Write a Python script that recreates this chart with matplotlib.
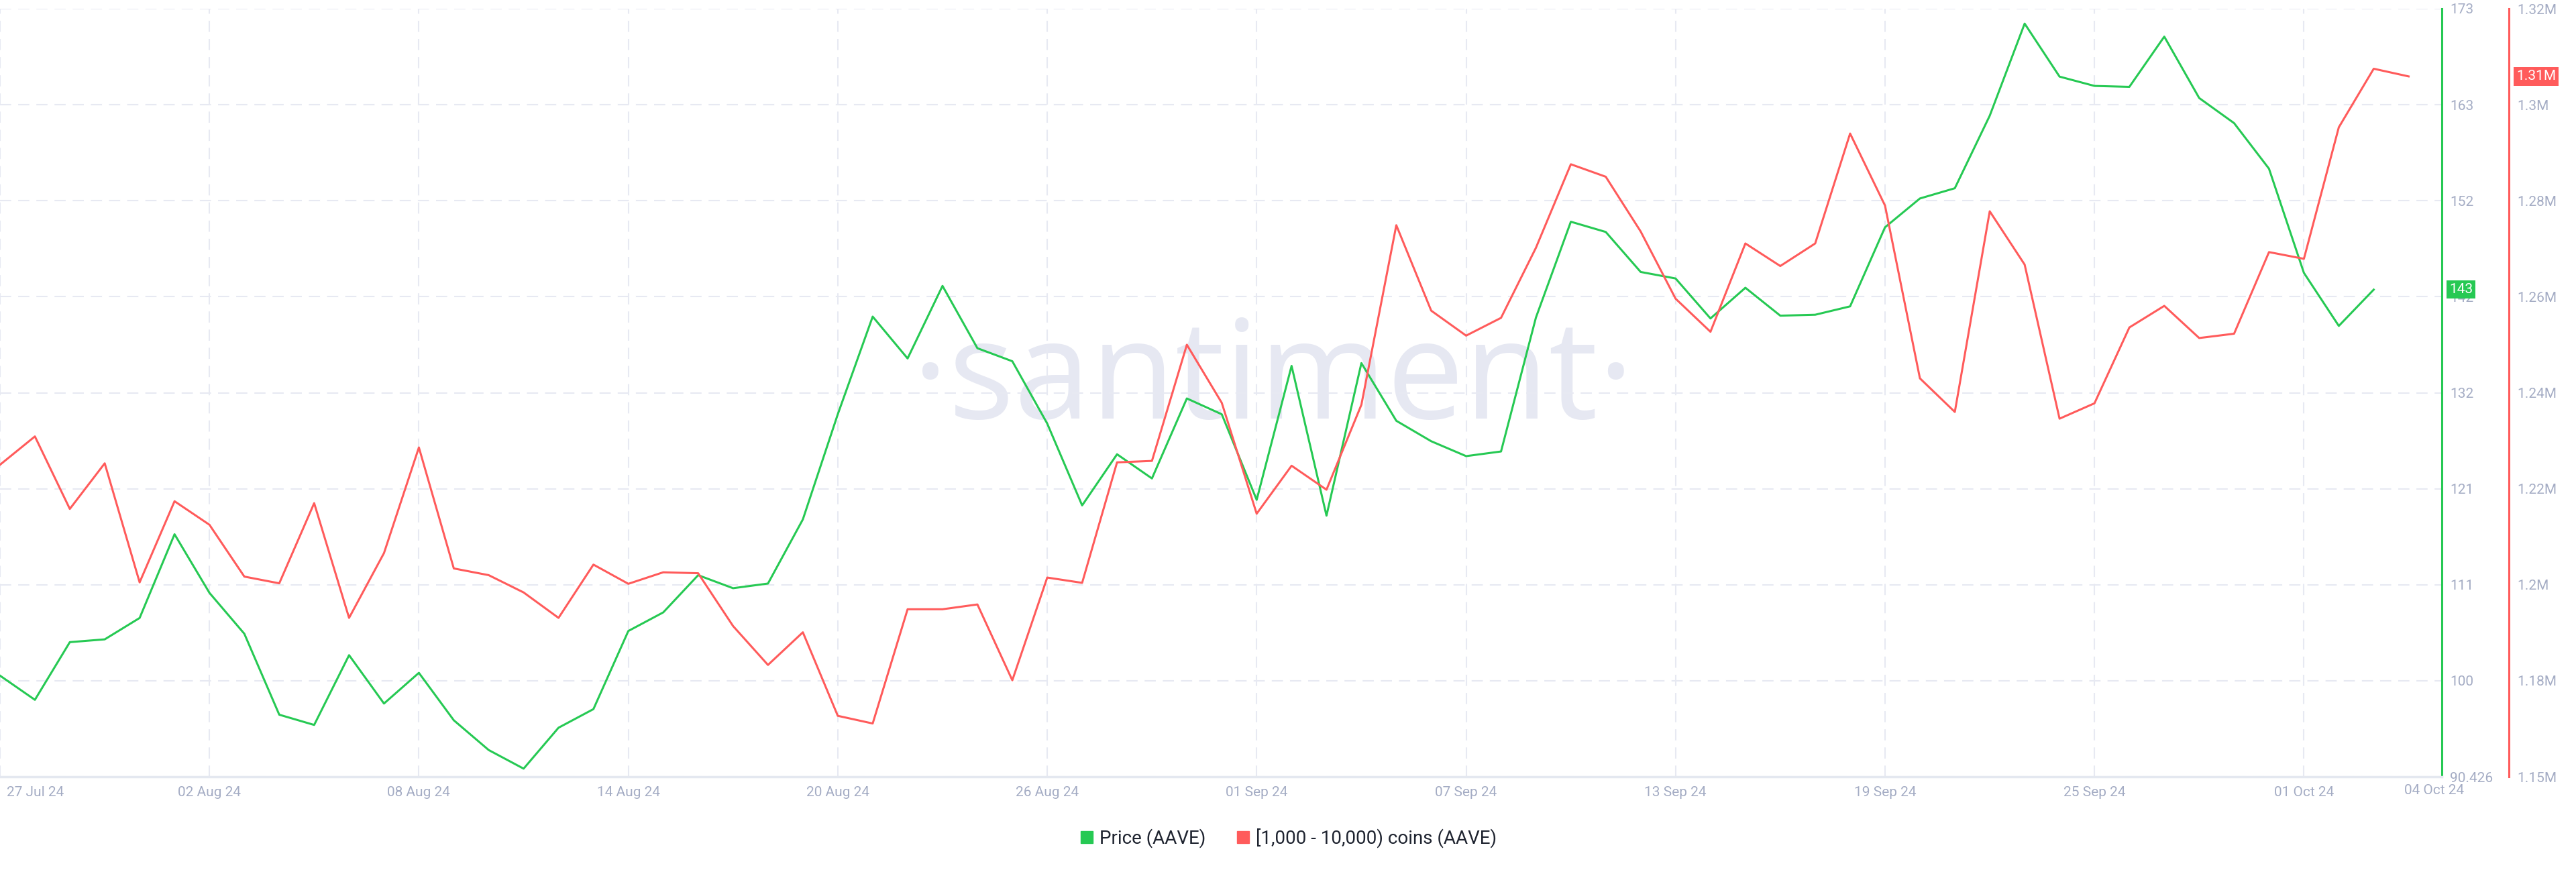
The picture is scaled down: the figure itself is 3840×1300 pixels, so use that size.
import matplotlib
matplotlib.use("Agg")
import matplotlib.pyplot as plt
import matplotlib.transforms as mtransforms
from matplotlib.lines import Line2D
import pandas as pd
import numpy as np

plt.rcParams['font.family'] = ['Roboto', 'DejaVu Sans']

# daily values, starting 27 Jul 2024
price = [101.3, 98.7, 104.9, 105.2, 107.5, 116.5, 110.2, 105.8, 97.1, 96.0,
         103.5, 98.3, 101.6, 96.5, 93.3, 91.3, 95.7, 97.7, 106.1, 108.1,
         112.1, 110.7, 111.2, 118.1, 129.4, 139.9, 135.4, 143.2, 136.5, 135.1,
         128.4, 119.6, 125.1, 122.5, 131.1, 129.4, 120.2, 134.6, 118.5, 134.9,
         128.7, 126.5, 124.9, 125.4, 139.8, 150.1, 149.0, 144.7, 144.0, 139.7,
         143.0, 140.0, 140.1, 141.0, 149.5, 152.6, 153.7, 161.5, 171.4, 165.7,
         164.7, 164.6, 170.0, 163.4, 160.7, 155.8, 144.6, 138.9, 142.8]

# holders with 1,000 - 10,000 AAVE, millions
holders = [1.2250, 1.2309, 1.2158, 1.2253, 1.2005, 1.2174, 1.2125, 1.2017, 1.2003, 1.2170,
           1.1931, 1.2066, 1.2286, 1.2034, 1.2020, 1.1984, 1.1931, 1.2042, 1.2002, 1.2026,
           1.2024, 1.1914, 1.1833, 1.1901, 1.1727, 1.1711, 1.1949, 1.1949, 1.1959, 1.1801,
           1.2015, 1.2004, 1.2255, 1.2258, 1.2500, 1.2379, 1.2148, 1.2248, 1.2198, 1.2375,
           1.2749, 1.2571, 1.2519, 1.2556, 1.2702, 1.2876, 1.2850, 1.2736, 1.2596, 1.2527,
           1.2711, 1.2664, 1.2711, 1.2940, 1.2790, 1.2430, 1.2360, 1.2778, 1.2667, 1.2346,
           1.2378, 1.2536, 1.2581, 1.2514, 1.2523, 1.2693, 1.2679, 1.2953, 1.3075, 1.3059]

price_ticks = ['90.426', '100', '111', '121', '132', '142', '152', '163', '173']
holder_ticks = ['1.15M', '1.18M', '1.2M', '1.22M', '1.24M', '1.26M', '1.28M', '1.3M', '1.32M']
date_ticks = ['27 Jul 24', '02 Aug 24', '08 Aug 24', '14 Aug 24', '20 Aug 24', '26 Aug 24',
              '01 Sep 24', '07 Sep 24', '13 Sep 24', '19 Sep 24', '25 Sep 24', '01 Oct 24']
last_price_label = '143'
last_holder_label = '1.31M'

GREEN = '#26c953'
RED = '#ff5b5b'
TICK = '#a4acc4'
GRID = '#e7e9f2'

dates = pd.date_range('2024-07-27', periods=len(holders), freq='D')
start = dates[0]

fig = plt.figure(figsize=(38.4, 13), dpi=100)
ax = fig.add_axes([0, 0.1092, 0.9479, 0.8808])
ax2 = ax.twinx()

# watermark
ax.text(0.5214, 0.466, '·santiment·', transform=ax.transAxes, ha='center', va='baseline',
        fontsize=148, color='#e6e8f2', family=['Open Sans', 'DejaVu Sans'], zorder=0)

ax.plot(dates[:len(price)], price, color=GREEN, lw=2.2, zorder=3)
ax2.plot(dates, holders, color=RED, lw=2.2, zorder=3)

ax.set_xlim(start, start + pd.Timedelta(days=69.95))
ax.set_ylim(90.426, 173)
ax2.set_ylim(1.16, 1.32)

ax.yaxis.tick_right()
ax.set_yticks(np.linspace(90.426, 173, len(price_ticks)), price_ticks)
ax2.set_yticks(np.linspace(1.16, 1.32, len(holder_ticks)), holder_ticks)

xt = [start + pd.Timedelta(days=6 * i) for i in range(len(date_ticks))]
ax.set_xticks(xt, date_ticks)
ax.get_xticklabels()[0].set_ha('left')
ax.get_xticklabels()[0].set_x(0)

for a in (ax, ax2):
    a.tick_params(axis='both', length=0, labelsize=15, labelcolor=TICK)
    for s in ('top', 'left'):
        a.spines[s].set_visible(False)
ax.tick_params(axis='y', pad=9)
ax2.tick_params(axis='y', pad=9)
ax.tick_params(axis='x', pad=10)
ax2.spines['bottom'].set_visible(False)
ax.spines['bottom'].set_color('#e4e8f0')
ax.spines['bottom'].set_linewidth(2.5)
ax.spines['right'].set_color(GREEN)
ax.spines['right'].set_linewidth(2.2)
ax2.spines['right'].set_position(('axes', 1 + 100 / 3640))
ax2.spines['right'].set_color(RED)
ax2.spines['right'].set_linewidth(2.2)

ax.grid(True, linestyle=(0, (8, 5)), color=GRID, lw=1.5, zorder=0)
ax2.grid(False)

# first label nudged in from the edge, end-date label at the right edge
ax.get_xticklabels()[0].set_transform(ax.get_xticklabels()[0].get_transform()
                                      + mtransforms.ScaledTranslation(0.1, 0, fig.dpi_scale_trans))
ax.text(0.997, -0.0175, '04 Oct 24', transform=ax.transAxes, ha='center', va='center',
        fontsize=15, color=TICK)

# last value badges
tr1 = mtransforms.blended_transform_factory(ax.transAxes, ax.transData)
ax.text(1.003, price[-1], last_price_label, transform=tr1, ha='left', va='center',
        fontsize=15, color='white', clip_on=False, zorder=5,
        bbox=dict(facecolor=GREEN, edgecolor='none', pad=3))
tr2 = mtransforms.blended_transform_factory(ax.transAxes, ax2.transData)
ax2.text(1.0305, holders[-1], last_holder_label, transform=tr2, ha='left', va='center',
         fontsize=15, color='white', clip_on=False, zorder=5,
         bbox=dict(facecolor=RED, edgecolor='none', pad=3))

handles = [Line2D([], [], marker='s', color=GREEN, linestyle='none', markersize=13),
           Line2D([], [], marker='s', color=RED, linestyle='none', markersize=13)]
fig.legend(handles, ['Price (AAVE)', '[1,000 - 10,000) coins (AAVE)'], loc='center',
           bbox_to_anchor=(0.5, 0.039), ncol=2, frameon=False, fontsize=20,
           labelcolor='#1f2430', handlelength=0.8, handletextpad=0.3, columnspacing=1.6)

fig.savefig('out.png', dpi=100)
